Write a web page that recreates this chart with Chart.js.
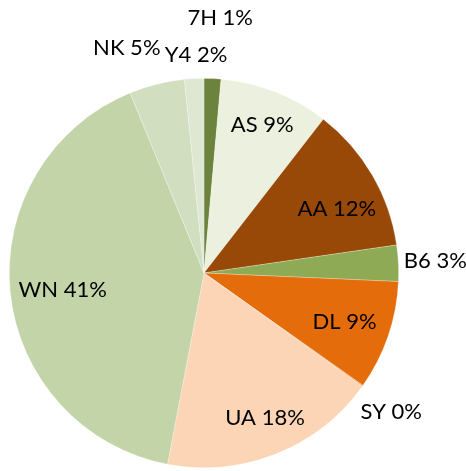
<!DOCTYPE html>
<html>
<head>
<meta charset="utf-8">
<script src="https://cdn.jsdelivr.net/npm/chart.js@4"></script>
<style>
  html, body { margin: 0; padding: 0; background: #fff; }
  #wrap { width: 466px; height: 471px; }
</style>
</head>
<body>
<div id="wrap"><canvas id="myChart" width="466" height="471"></canvas></div>
<script>
// airline codes, clockwise from 12 o'clock
let carriers = ['7H', 'AS', 'AA', 'B6', 'DL', 'SY', 'UA', 'WN', 'NK', 'Y4'];

// share of flights (percent)
let shares = [1.4, 9.1, 12.2, 3.0, 9.1, 0.1, 18.1, 40.8, 4.6, 1.6];

// rounded labels as printed on the chart
let shareLabels = ['1%', '9%', '12%', '3%', '9%', '0%', '18%', '41%', '5%', '2%'];

let sliceColors = ['#6b833c', '#ebf0df', '#984807', '#8eaa55', '#e46c0a',
    '#f5a766', '#fbd5b5', '#c3d4a9', '#d1dfc0', '#dde7d1'];

// where each label sits: fraction of the radius along the slice middle, plus a nudge
let labelSpots = {
    '7H': { r: 1.31, dx: 5, dy: 0 },
    'AS': { r: 0.82, dx: 0, dy: 0 },
    'AA': { r: 0.76, dx: 5, dy: 10 },
    'B6': { r: 1.19, dx: 0, dy: 0 },
    'DL': { r: 0.78, dx: -3, dy: 0 },
    'SY': { r: 1.2, dx: -3, dy: 3 },
    'UA': { r: 0.79, dx: 4, dy: 2 },
    'WN': { r: 0.73, dx: 0, dy: 3 },
    'NK': { r: 1.19, dx: -21, dy: 0 },
    'Y4': { r: 1.12, dx: 3, dy: 0 }
};

// plugin that writes "code pct" next to each arc
let sliceLabels = {
    id: 'sliceLabels',
    afterDatasetsDraw(chart) {
        let ctx = chart.ctx;
        let arcs = chart.getDatasetMeta(0).data;
        ctx.save();
        ctx.font = '22px Lato, "Open Sans", sans-serif';
        ctx.fillStyle = '#000';
        ctx.textAlign = 'center';
        ctx.textBaseline = 'middle';
        for (let i = 0; i < arcs.length; i++) {
            let a = arcs[i];
            let spot = labelSpots[carriers[i]];
            let mid = (a.startAngle + a.endAngle) / 2;
            let x = a.x + Math.cos(mid) * a.outerRadius * spot.r + spot.dx;
            let y = a.y + Math.sin(mid) * a.outerRadius * spot.r + spot.dy;
            ctx.fillText(carriers[i] + ' ' + shareLabels[i], x, y);
        }
        ctx.restore();
    }
};

let ctx = document.getElementById('myChart').getContext('2d');
let chart = new Chart(ctx, {
    type: 'pie',
    data: {
        labels: carriers,
        datasets: [{
            data: shares,
            backgroundColor: sliceColors,
            borderColor: 'rgba(255,255,255,0.35)',
            borderWidth: 0.75
        }]
    },
    options: {
        responsive: false,
        animation: false,
        layout: { padding: { left: 9, right: 67, top: 78, bottom: 3 } },
        plugins: {
            legend: { display: false },
            tooltip: { enabled: false }
        }
    },
    plugins: [sliceLabels]
});
</script>
</body>
</html>
